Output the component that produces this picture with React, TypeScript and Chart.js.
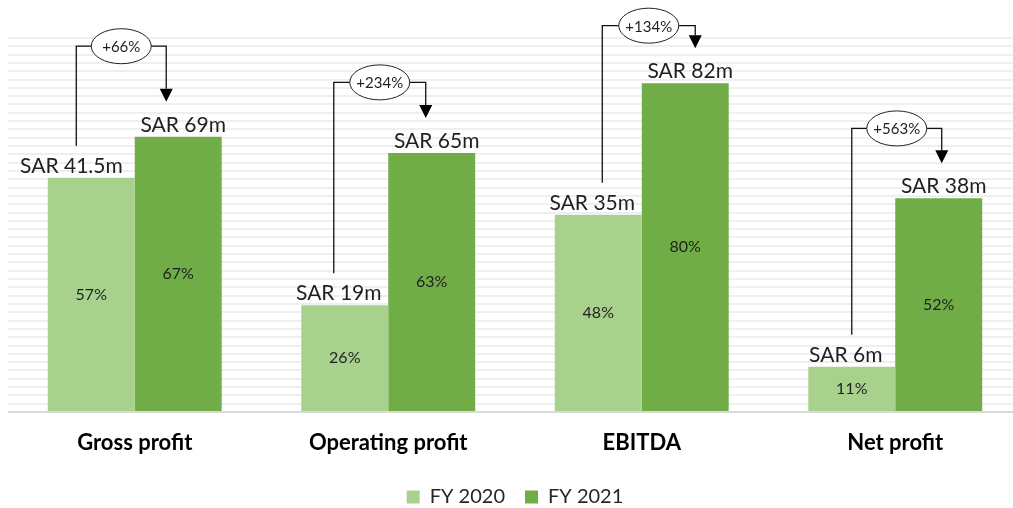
import React, { useEffect, useRef } from "react";
import { Chart, registerables } from "chart.js";

Chart.register(...registerables);

// ---- data ----
const categories = ["Gross profit", "Operating profit", "EBITDA", "Net profit"];
const seriesNames = ["FY 2020", "FY 2021"];
const fy2020Margin = [57, 26, 48, 11];
const fy2021Margin = [67, 63, 80, 52];
const fy2020Sar = [41.5, 19, 35, 6];
const fy2021Sar = [69, 65, 82, 38];
const growthPct = [66, 234, 134, 563];
// level (in axis units) at which each growth connector runs
const connectorLevel = [89, 80.2, 94, 69];

const FONT = "Lato, 'Open Sans', sans-serif";
const LIGHT = "#a9d18e";
const DARK = "#70ad47";

// annotation layout tweaks (pixel offsets relative to bar centres)
const connectorLeftDx = [-15, -11, 4, 0];
const connectorRightDx = [-12, -6, 10, 3];

const labelPlugin = {
  id: "barLabels",
  afterDatasetsDraw(chart: any) {
    const ctx = chart.ctx as CanvasRenderingContext2D;
    const m0 = chart.getDatasetMeta(0).data;
    const m1 = chart.getDatasetMeta(1).data;
    const yScale = chart.scales.y;
    ctx.save();

    // values above bars
    ctx.font = `21px ${FONT}`;
    ctx.fillStyle = "#1f1f1f";
    ctx.textBaseline = "alphabetic";
    ctx.textAlign = "center";
    m0.forEach((bar: any, i: number) => {
      const txt = `SAR ${fy2020Sar[i]}m`;
      const w = ctx.measureText(txt).width;
      let cx = bar.x - 6;
      if (w > bar.width + 10) cx = bar.x + bar.width / 2 - 12 - w / 2;
      ctx.fillText(txt, cx, bar.y - 5);
    });
    m1.forEach((bar: any, i: number) => {
      const txt = `SAR ${fy2021Sar[i]}m`;
      ctx.fillText(txt, bar.x + 5, bar.y - 5);
    });

    // margins inside bars
    ctx.font = `16px ${FONT}`;
    ctx.textBaseline = "middle";
    [m0, m1].forEach((meta: any[], d: number) => {
      const vals = d === 0 ? fy2020Margin : fy2021Margin;
      meta.forEach((bar: any, i: number) => {
        ctx.fillText(`${vals[i]}%`, bar.x, (bar.y + bar.base) / 2);
      });
    });

    // growth connectors
    m0.forEach((b0: any, i: number) => {
      const b1 = m1[i];
      const lx = b0.x + connectorLeftDx[i];
      const rx = b1.x + connectorRightDx[i];
      const ly = yScale.getPixelForValue(connectorLevel[i]);
      const tipY = b1.y - 35;
      const headH = 13;
      ctx.strokeStyle = "#111";
      ctx.lineWidth = 1.3;
      ctx.beginPath();
      ctx.moveTo(lx, b0.y - 32);
      ctx.lineTo(lx, ly);
      ctx.lineTo(rx, ly);
      ctx.lineTo(rx, tipY - headH);
      ctx.stroke();
      ctx.fillStyle = "#000";
      ctx.beginPath();
      ctx.moveTo(rx - 6.5, tipY - headH);
      ctx.lineTo(rx + 6.5, tipY - headH);
      ctx.lineTo(rx, tipY);
      ctx.closePath();
      ctx.fill();
      const ex = (lx + rx) / 2;
      ctx.beginPath();
      ctx.ellipse(ex, ly, 30, 17.5, 0, 0, Math.PI * 2);
      ctx.fillStyle = "#fff";
      ctx.fill();
      ctx.lineWidth = 1;
      ctx.strokeStyle = "#222";
      ctx.stroke();
      ctx.fillStyle = "#1f1f1f";
      ctx.font = `15px ${FONT}`;
      ctx.textAlign = "center";
      ctx.textBaseline = "middle";
      ctx.fillText(`+${growthPct[i]}%`, ex, ly + 1);
    });
    ctx.restore();
  },
};

export default function App() {
  const ref = useRef<HTMLCanvasElement | null>(null);
  useEffect(() => {
    if (!ref.current) return;
    const chart = new Chart(ref.current, {
      type: "bar",
      data: {
        labels: categories,
        datasets: [
          {
            label: seriesNames[0],
            data: fy2020Margin,
            backgroundColor: LIGHT,
            borderWidth: 0,
            categoryPercentage: 0.686,
            barPercentage: 1,
          },
          {
            label: seriesNames[1],
            data: fy2021Margin,
            backgroundColor: DARK,
            borderWidth: 0,
            categoryPercentage: 0.686,
            barPercentage: 1,
          },
        ],
      },
      options: {
        responsive: false,
        animation: false,
        devicePixelRatio: 1,
        layout: { padding: { left: 8, right: 8, top: 38, bottom: 0 } },
        plugins: {
          tooltip: { enabled: false },
          legend: {
            position: "bottom",
            labels: {
              boxWidth: 13,
              boxHeight: 13,
              padding: 20,
              color: "#262626",
              font: { family: FONT, size: 20 },
            },
          },
        },
        scales: {
          x: {
            grid: { display: false, drawTicks: false },
            border: { display: false },
            ticks: {
              padding: 18,
              color: "#000",
              font: { family: FONT, size: 22, weight: "bold" },
            },
            afterFit: (s: any) => {
              s.height = 55;
            },
          },
          y: {
            min: 0,
            max: 91,
            ticks: { display: false, count: 46 },
            border: { display: false },
            grid: {
              drawTicks: false,
              lineWidth: 2,
              color: (c: any) => (c.index === 0 ? "#d9d9d9" : "#efefef"),
            },
          },
        },
      },
      plugins: [labelPlugin],
    } as any);
    return () => chart.destroy();
  }, []);
  return (
    <div
      style={{
        position: "absolute",
        left: 0,
        top: 0,
        width: 1013,
        height: 508,
        overflow: "hidden",
        background: "#fff",
      }}
    >
      <canvas
        ref={ref}
        width={1030}
        height={517}
        style={{ display: "block", width: 1030, height: 517 }}
      />
    </div>
  );
}
